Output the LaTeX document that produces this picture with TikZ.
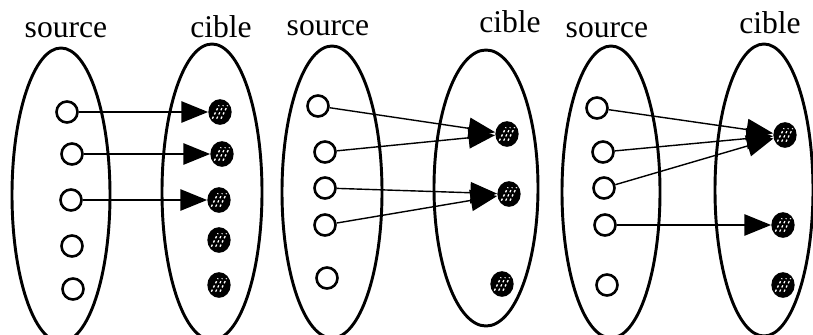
\documentclass[tikz,border=0pt]{standalone}
\usepackage{fontspec}
\setmainfont{Liberation Serif}
\usepackage{tikz}
\usetikzlibrary{shapes.geometric,arrows.meta}

\begin{document}
\begin{tikzpicture}[x=0.03cm, y=-0.03cm,
  set/.style={ellipse, draw, line width=2.5pt, inner sep=0pt},
  lab/.style={font=\fontsize{27}{32}\selectfont, anchor=base, inner sep=0pt},
  elem/.style={circle, draw, line width=2.2pt, minimum size=0.63cm, inner sep=0pt},
  img/.style={ellipse, fill=black, minimum width=0.7cm, minimum height=0.77cm, inner sep=0pt,
    path picture={
      \foreach \d in {-0.13,0,0.13}
        \draw[white, line width=1.1pt, dash pattern=on 2pt off 2pt,
          shift={(path picture bounding box.center)}]
          (\d cm-0.1cm,-0.2cm) -- (\d cm+0.1cm,0.2cm);
    }},
  arrow/.style={-{Triangle[length=0.8cm, width=0.64cm]}, line width=1.2pt}
]
  \useasboundingbox (0,0) rectangle (813,334);
  \clip (0,0) rectangle (813,334);

  \node[lab] (lsrc1) at (66,37) {source};
  \node[lab] (lcib1) at (221,37) {cible};
  \node[lab] (lsrc2) at (328,35) {source};
  \node[lab] (lcib2) at (510,32) {cible};
  \node[lab] (lsrc3) at (607,37) {source};
  \node[lab] (lcib3) at (770,33) {cible};

  \node[set, minimum width=2.94cm, minimum height=8.82cm] (src1) at (61,195) {};
  \node[set, minimum width=3.0cm, minimum height=8.88cm] (cib1) at (212,192) {};
  \node[set, minimum width=3.0cm, minimum height=8.76cm] (src2) at (332,192) {};
  \node[set, minimum width=3.12cm, minimum height=8.28cm] (cib2) at (486,188) {};
  \node[set, minimum width=2.94cm, minimum height=8.76cm] (src3) at (611,192) {};
  \node[set, minimum width=2.94cm, minimum height=8.76cm] (cib3) at (764,190) {};

  \node[elem] (a1) at (67,112) {};
  \node[elem] (a2) at (72,154) {};
  \node[elem] (a3) at (71,200) {};
  \node[elem] (a4) at (72,246) {};
  \node[elem] (a5) at (73,289) {};
  \node[img] (b1) at (220,112) {};
  \node[img] (b2) at (222,154) {};
  \node[img] (b3) at (219,200) {};
  \node[img] (b4) at (219,240) {};
  \node[img] (b5) at (219,285) {};

  \node[elem] (c1) at (318,106) {};
  \node[elem] (c2) at (325,152) {};
  \node[elem] (c3) at (325,188) {};
  \node[elem] (c4) at (325,225) {};
  \node[elem] (c5) at (327,278) {};
  \node[img] (d1) at (507,134) {};
  \node[img] (d2) at (509,194) {};
  \node[img] (d3) at (502,284) {};

  \node[elem] (e1) at (597,108) {};
  \node[elem] (e2) at (603,152) {};
  \node[elem] (e3) at (604,188) {};
  \node[elem] (e4) at (605,225) {};
  \node[elem] (e5) at (607,285) {};
  \node[img] (f1) at (785,135) {};
  \node[img] (f2) at (783,225) {};
  \node[img] (f3) at (783,285) {};

  \draw[arrow] (a1) -- (b1);
  \draw[arrow] (a2) -- (b2);
  \draw[arrow] (a3) -- (b3);

  \draw[arrow] (c1) -- (d1);
  \draw[arrow] (c2) -- (d1);
  \draw[arrow] (c3) -- (d2);
  \draw[arrow] (c4) -- (d2);

  \draw[arrow] (e1) -- (f1);
  \draw[arrow] (e2) -- (f1);
  \draw[arrow] (e3) -- (f1);
  \draw[arrow] (e4) -- (f2);
\end{tikzpicture}
\end{document}
